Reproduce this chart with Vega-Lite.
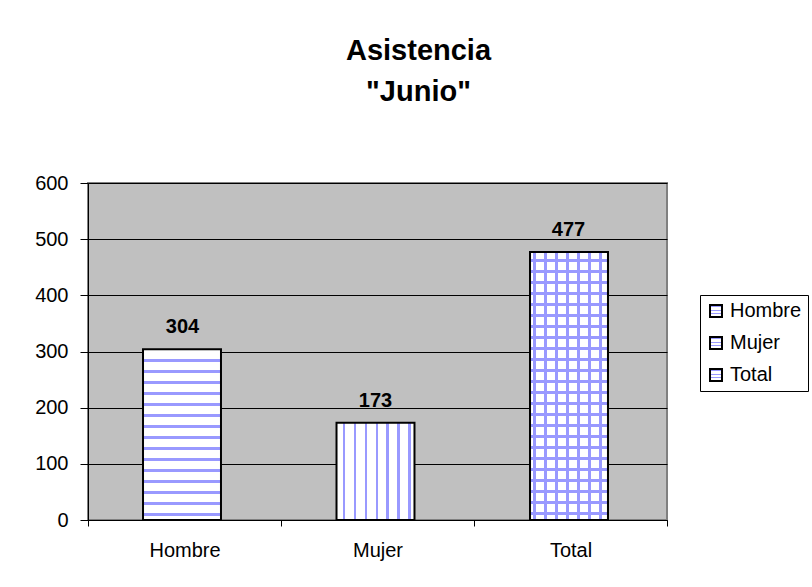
{
  "$schema": "https://vega.github.io/schema/vega-lite/v6.json",
  "autosize": "none",
  "width": 579,
  "height": 337,
  "padding": {"left": 88, "top": 183, "right": 145, "bottom": 67},
  "background": "white",
  "data": {"values": [
    {"categoria": "Hombre", "asistencia": 304},
    {"categoria": "Mujer", "asistencia": 173},
    {"categoria": "Total", "asistencia": 477}
  ]},
  "title": {
    "text": ["Asistencia", "\"Junio\""],
    "font": "Liberation Sans",
    "fontSize": 29,
    "fontWeight": "bold",
    "color": "black",
    "anchor": "middle",
    "dx": 41,
    "lineHeight": 41,
    "offset": 66
  },
  "encoding": {
    "x": {
      "field": "categoria", "type": "nominal", "sort": null,
      "scale": {"domain": ["Hombre", "Mujer", "Total"], "paddingInner": 0, "paddingOuter": 0},
      "axis": {
        "title": null, "labelAngle": 0, "tickBand": "extent",
        "labelFont": "Liberation Sans", "labelFontSize": 20, "labelColor": "black",
        "labelPadding": 14, "tickSize": 6, "tickColor": "black",
        "domainColor": "black", "domainWidth": 1, "grid": false
      }
    },
    "y": {
      "field": "asistencia", "type": "quantitative",
      "scale": {"domain": [0, 600], "nice": false},
      "axis": {
        "title": null, "values": [0, 100, 200, 300, 400, 500, 600],
        "labelFont": "Liberation Sans", "labelFontSize": 20, "labelColor": "black",
        "labelPadding": 12, "tickSize": 8, "tickColor": "black",
        "domainColor": "black", "domainWidth": 1,
        "grid": true, "gridColor": "black", "gridWidth": 1, "gridOpacity": 1
      }
    }
  },
  "layer": [
    {
      "transform": [{"filter": "datum.categoria === 'Hombre'"}],
      "mark": {
        "type": "bar", "width": {"band": 0.404}, "strokeWidth": 2, "xOffset": -2.5,
        "fill": {"gradient": "linear", "x1": 0, "y1": 0, "x2": 0, "y2": 1, "stops": [
          {"offset": 0, "color": "#ffffff"},
          {"offset": 0.0585, "color": "#ffffff"}, {"offset": 0.0585, "color": "#9999ff"}, {"offset": 0.0760, "color": "#9999ff"}, {"offset": 0.0760, "color": "#ffffff"},
          {"offset": 0.1228, "color": "#ffffff"}, {"offset": 0.1228, "color": "#9999ff"}, {"offset": 0.1404, "color": "#9999ff"}, {"offset": 0.1404, "color": "#ffffff"},
          {"offset": 0.1871, "color": "#ffffff"}, {"offset": 0.1871, "color": "#9999ff"}, {"offset": 0.2047, "color": "#9999ff"}, {"offset": 0.2047, "color": "#ffffff"},
          {"offset": 0.2515, "color": "#ffffff"}, {"offset": 0.2515, "color": "#9999ff"}, {"offset": 0.2690, "color": "#9999ff"}, {"offset": 0.2690, "color": "#ffffff"},
          {"offset": 0.3158, "color": "#ffffff"}, {"offset": 0.3158, "color": "#9999ff"}, {"offset": 0.3333, "color": "#9999ff"}, {"offset": 0.3333, "color": "#ffffff"},
          {"offset": 0.3801, "color": "#ffffff"}, {"offset": 0.3801, "color": "#9999ff"}, {"offset": 0.3977, "color": "#9999ff"}, {"offset": 0.3977, "color": "#ffffff"},
          {"offset": 0.4444, "color": "#ffffff"}, {"offset": 0.4444, "color": "#9999ff"}, {"offset": 0.4620, "color": "#9999ff"}, {"offset": 0.4620, "color": "#ffffff"},
          {"offset": 0.5088, "color": "#ffffff"}, {"offset": 0.5088, "color": "#9999ff"}, {"offset": 0.5263, "color": "#9999ff"}, {"offset": 0.5263, "color": "#ffffff"},
          {"offset": 0.5731, "color": "#ffffff"}, {"offset": 0.5731, "color": "#9999ff"}, {"offset": 0.5906, "color": "#9999ff"}, {"offset": 0.5906, "color": "#ffffff"},
          {"offset": 0.6374, "color": "#ffffff"}, {"offset": 0.6374, "color": "#9999ff"}, {"offset": 0.6550, "color": "#9999ff"}, {"offset": 0.6550, "color": "#ffffff"},
          {"offset": 0.7018, "color": "#ffffff"}, {"offset": 0.7018, "color": "#9999ff"}, {"offset": 0.7193, "color": "#9999ff"}, {"offset": 0.7193, "color": "#ffffff"},
          {"offset": 0.7661, "color": "#ffffff"}, {"offset": 0.7661, "color": "#9999ff"}, {"offset": 0.7836, "color": "#9999ff"}, {"offset": 0.7836, "color": "#ffffff"},
          {"offset": 0.8304, "color": "#ffffff"}, {"offset": 0.8304, "color": "#9999ff"}, {"offset": 0.8480, "color": "#9999ff"}, {"offset": 0.8480, "color": "#ffffff"},
          {"offset": 0.8947, "color": "#ffffff"}, {"offset": 0.8947, "color": "#9999ff"}, {"offset": 0.9123, "color": "#9999ff"}, {"offset": 0.9123, "color": "#ffffff"},
          {"offset": 0.9591, "color": "#ffffff"}, {"offset": 0.9591, "color": "#9999ff"}, {"offset": 0.9766, "color": "#9999ff"}, {"offset": 0.9766, "color": "#ffffff"},
          {"offset": 1, "color": "#ffffff"}
        ]}
      },
      "encoding": {
        "stroke": {
          "field": "categoria", "type": "nominal",
          "scale": {"domain": ["Hombre", "Mujer", "Total"], "range": ["black", "black", "black"]},
          "legend": {
            "title": null, "orient": "none", "legendX": 612, "legendY": 112,
            "direction": "vertical",
            "strokeColor": "black", "fillColor": "white", "padding": 6,
            "symbolType": "square", "symbolSize": 144, "symbolStrokeWidth": 2,
            "symbolFillColor": "white",
            "labelFont": "Liberation Sans", "labelFontSize": 20, "labelColor": "black",
            "labelOffset": 4, "rowPadding": 12,
            "encode": {
              "symbols": {"update": {
                "fill": {"value": {"gradient": "linear", "x1": 0, "y1": 0, "x2": 1, "y2": 0, "stops": [
                    {"offset": 0, "color": "#ffffff"}, {"offset": 0.38, "color": "#ffffff"}, {"offset": 0.38, "color": "#9999ff"}, {"offset": 0.62, "color": "#9999ff"}, {"offset": 0.62, "color": "#ffffff"}, {"offset": 1, "color": "#ffffff"}]}},
                "fillOpacity": {"value": 1},
                "strokeWidth": {"value": 2}
              }}
            }
          }
        }
      }
    },
    {
      "transform": [{"filter": "datum.categoria === 'Mujer'"}],
      "mark": {
        "type": "bar", "width": {"band": 0.404}, "strokeWidth": 2, "xOffset": -2,
        "fill": {"gradient": "linear", "x1": 0, "y1": 0, "x2": 1, "y2": 0, "stops": [
          {"offset": 0, "color": "#ffffff"},
          {"offset": 0.0769, "color": "#ffffff"}, {"offset": 0.0769, "color": "#9999ff"}, {"offset": 0.1090, "color": "#9999ff"}, {"offset": 0.1090, "color": "#ffffff"},
          {"offset": 0.2179, "color": "#ffffff"}, {"offset": 0.2179, "color": "#9999ff"}, {"offset": 0.2500, "color": "#9999ff"}, {"offset": 0.2500, "color": "#ffffff"},
          {"offset": 0.3590, "color": "#ffffff"}, {"offset": 0.3590, "color": "#9999ff"}, {"offset": 0.3910, "color": "#9999ff"}, {"offset": 0.3910, "color": "#ffffff"},
          {"offset": 0.5000, "color": "#ffffff"}, {"offset": 0.5000, "color": "#9999ff"}, {"offset": 0.5321, "color": "#9999ff"}, {"offset": 0.5321, "color": "#ffffff"},
          {"offset": 0.6410, "color": "#ffffff"}, {"offset": 0.6410, "color": "#9999ff"}, {"offset": 0.6731, "color": "#9999ff"}, {"offset": 0.6731, "color": "#ffffff"},
          {"offset": 0.7821, "color": "#ffffff"}, {"offset": 0.7821, "color": "#9999ff"}, {"offset": 0.8141, "color": "#9999ff"}, {"offset": 0.8141, "color": "#ffffff"},
          {"offset": 0.9231, "color": "#ffffff"}, {"offset": 0.9231, "color": "#9999ff"}, {"offset": 0.9551, "color": "#9999ff"}, {"offset": 0.9551, "color": "#ffffff"},
          {"offset": 1, "color": "#ffffff"}
        ]}
      },
      "encoding": {
        "stroke": {"field": "categoria", "type": "nominal"}
      }
    },
    {
      "transform": [{"filter": "datum.categoria === 'Total'"}],
      "mark": {
        "type": "bar", "width": {"band": 0.404}, "strokeWidth": 2, "xOffset": -1.5,
        "fill": {"gradient": "linear", "x1": 0, "y1": 0, "x2": 0, "y2": 1, "stops": [
          {"offset": 0, "color": "#ffffff"},
          {"offset": 0.0261, "color": "#ffffff"}, {"offset": 0.0261, "color": "#9999ff"}, {"offset": 0.0373, "color": "#9999ff"}, {"offset": 0.0373, "color": "#ffffff"},
          {"offset": 0.0672, "color": "#ffffff"}, {"offset": 0.0672, "color": "#9999ff"}, {"offset": 0.0784, "color": "#9999ff"}, {"offset": 0.0784, "color": "#ffffff"},
          {"offset": 0.1082, "color": "#ffffff"}, {"offset": 0.1082, "color": "#9999ff"}, {"offset": 0.1194, "color": "#9999ff"}, {"offset": 0.1194, "color": "#ffffff"},
          {"offset": 0.1493, "color": "#ffffff"}, {"offset": 0.1493, "color": "#9999ff"}, {"offset": 0.1604, "color": "#9999ff"}, {"offset": 0.1604, "color": "#ffffff"},
          {"offset": 0.1903, "color": "#ffffff"}, {"offset": 0.1903, "color": "#9999ff"}, {"offset": 0.2015, "color": "#9999ff"}, {"offset": 0.2015, "color": "#ffffff"},
          {"offset": 0.2313, "color": "#ffffff"}, {"offset": 0.2313, "color": "#9999ff"}, {"offset": 0.2425, "color": "#9999ff"}, {"offset": 0.2425, "color": "#ffffff"},
          {"offset": 0.2724, "color": "#ffffff"}, {"offset": 0.2724, "color": "#9999ff"}, {"offset": 0.2836, "color": "#9999ff"}, {"offset": 0.2836, "color": "#ffffff"},
          {"offset": 0.3134, "color": "#ffffff"}, {"offset": 0.3134, "color": "#9999ff"}, {"offset": 0.3246, "color": "#9999ff"}, {"offset": 0.3246, "color": "#ffffff"},
          {"offset": 0.3545, "color": "#ffffff"}, {"offset": 0.3545, "color": "#9999ff"}, {"offset": 0.3657, "color": "#9999ff"}, {"offset": 0.3657, "color": "#ffffff"},
          {"offset": 0.3955, "color": "#ffffff"}, {"offset": 0.3955, "color": "#9999ff"}, {"offset": 0.4067, "color": "#9999ff"}, {"offset": 0.4067, "color": "#ffffff"},
          {"offset": 0.4366, "color": "#ffffff"}, {"offset": 0.4366, "color": "#9999ff"}, {"offset": 0.4478, "color": "#9999ff"}, {"offset": 0.4478, "color": "#ffffff"},
          {"offset": 0.4776, "color": "#ffffff"}, {"offset": 0.4776, "color": "#9999ff"}, {"offset": 0.4888, "color": "#9999ff"}, {"offset": 0.4888, "color": "#ffffff"},
          {"offset": 0.5187, "color": "#ffffff"}, {"offset": 0.5187, "color": "#9999ff"}, {"offset": 0.5299, "color": "#9999ff"}, {"offset": 0.5299, "color": "#ffffff"},
          {"offset": 0.5597, "color": "#ffffff"}, {"offset": 0.5597, "color": "#9999ff"}, {"offset": 0.5709, "color": "#9999ff"}, {"offset": 0.5709, "color": "#ffffff"},
          {"offset": 0.6007, "color": "#ffffff"}, {"offset": 0.6007, "color": "#9999ff"}, {"offset": 0.6119, "color": "#9999ff"}, {"offset": 0.6119, "color": "#ffffff"},
          {"offset": 0.6418, "color": "#ffffff"}, {"offset": 0.6418, "color": "#9999ff"}, {"offset": 0.6530, "color": "#9999ff"}, {"offset": 0.6530, "color": "#ffffff"},
          {"offset": 0.6828, "color": "#ffffff"}, {"offset": 0.6828, "color": "#9999ff"}, {"offset": 0.6940, "color": "#9999ff"}, {"offset": 0.6940, "color": "#ffffff"},
          {"offset": 0.7239, "color": "#ffffff"}, {"offset": 0.7239, "color": "#9999ff"}, {"offset": 0.7351, "color": "#9999ff"}, {"offset": 0.7351, "color": "#ffffff"},
          {"offset": 0.7649, "color": "#ffffff"}, {"offset": 0.7649, "color": "#9999ff"}, {"offset": 0.7761, "color": "#9999ff"}, {"offset": 0.7761, "color": "#ffffff"},
          {"offset": 0.8060, "color": "#ffffff"}, {"offset": 0.8060, "color": "#9999ff"}, {"offset": 0.8172, "color": "#9999ff"}, {"offset": 0.8172, "color": "#ffffff"},
          {"offset": 0.8470, "color": "#ffffff"}, {"offset": 0.8470, "color": "#9999ff"}, {"offset": 0.8582, "color": "#9999ff"}, {"offset": 0.8582, "color": "#ffffff"},
          {"offset": 0.8881, "color": "#ffffff"}, {"offset": 0.8881, "color": "#9999ff"}, {"offset": 0.8993, "color": "#9999ff"}, {"offset": 0.8993, "color": "#ffffff"},
          {"offset": 0.9291, "color": "#ffffff"}, {"offset": 0.9291, "color": "#9999ff"}, {"offset": 0.9403, "color": "#9999ff"}, {"offset": 0.9403, "color": "#ffffff"},
          {"offset": 0.9701, "color": "#ffffff"}, {"offset": 0.9701, "color": "#9999ff"}, {"offset": 0.9813, "color": "#9999ff"}, {"offset": 0.9813, "color": "#ffffff"},
          {"offset": 1, "color": "#ffffff"}
        ]}
      },
      "encoding": {
        "stroke": {"field": "categoria", "type": "nominal"}
      }
    },
    {
      "transform": [{"filter": "datum.categoria === 'Total'"}],
      "mark": {
        "type": "bar", "width": {"band": 0.404}, "strokeWidth": 2, "xOffset": -1.5,
        "fill": {"gradient": "linear", "x1": 0, "y1": 0, "x2": 1, "y2": 0, "stops": [
          {"offset": 0, "color": "rgba(255,255,255,0)"},
          {"offset": 0.0385, "color": "rgba(255,255,255,0)"}, {"offset": 0.0385, "color": "#9999ff"}, {"offset": 0.0769, "color": "#9999ff"}, {"offset": 0.0769, "color": "rgba(255,255,255,0)"},
          {"offset": 0.1795, "color": "rgba(255,255,255,0)"}, {"offset": 0.1795, "color": "#9999ff"}, {"offset": 0.2179, "color": "#9999ff"}, {"offset": 0.2179, "color": "rgba(255,255,255,0)"},
          {"offset": 0.3205, "color": "rgba(255,255,255,0)"}, {"offset": 0.3205, "color": "#9999ff"}, {"offset": 0.3590, "color": "#9999ff"}, {"offset": 0.3590, "color": "rgba(255,255,255,0)"},
          {"offset": 0.4615, "color": "rgba(255,255,255,0)"}, {"offset": 0.4615, "color": "#9999ff"}, {"offset": 0.5000, "color": "#9999ff"}, {"offset": 0.5000, "color": "rgba(255,255,255,0)"},
          {"offset": 0.6026, "color": "rgba(255,255,255,0)"}, {"offset": 0.6026, "color": "#9999ff"}, {"offset": 0.6410, "color": "#9999ff"}, {"offset": 0.6410, "color": "rgba(255,255,255,0)"},
          {"offset": 0.7436, "color": "rgba(255,255,255,0)"}, {"offset": 0.7436, "color": "#9999ff"}, {"offset": 0.7821, "color": "#9999ff"}, {"offset": 0.7821, "color": "rgba(255,255,255,0)"},
          {"offset": 0.8846, "color": "rgba(255,255,255,0)"}, {"offset": 0.8846, "color": "#9999ff"}, {"offset": 0.9231, "color": "#9999ff"}, {"offset": 0.9231, "color": "rgba(255,255,255,0)"},
          {"offset": 1, "color": "rgba(255,255,255,0)"}
        ]}
      },
      "encoding": {
        "stroke": {"field": "categoria", "type": "nominal"}
      }
    },
    {
      "mark": {"type": "text", "font": "Liberation Sans", "fontSize": 20, "fontWeight": "bold", "color": "black", "baseline": "alphabetic", "dy": -16, "xOffset": -2},
      "encoding": {
        "text": {"field": "asistencia", "type": "quantitative"}
      }
    }
  ],
  "config": {
    "font": "Liberation Sans",
    "view": {"fill": "#c0c0c0", "stroke": "#808080", "strokeWidth": 2},
    "axis": {"labelFont": "Liberation Sans"}
  }
}
